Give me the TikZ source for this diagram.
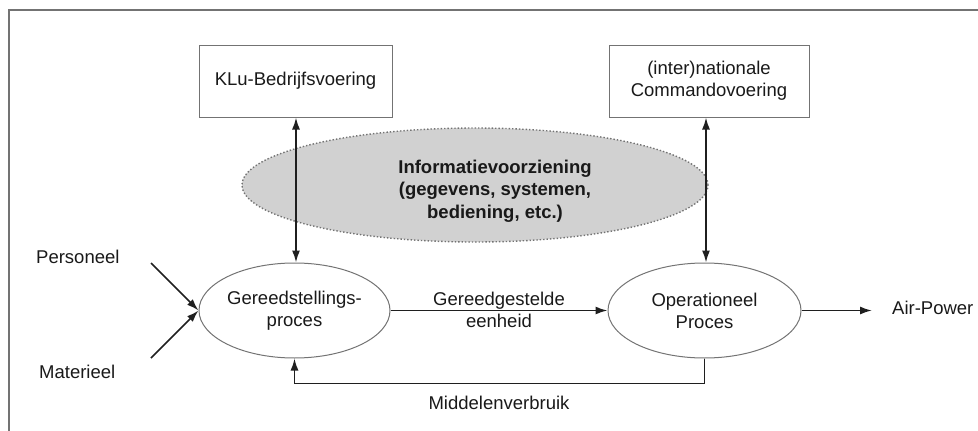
\documentclass[tikz,border=0pt]{standalone}
\usepackage{fontspec}
\setmainfont{Liberation Sans}
\usetikzlibrary{arrows.meta,shapes.geometric}
\begin{document}
\begin{tikzpicture}[x=1pt,y=-1pt,
  txt/.style={font=\fontsize{18.5}{22}\selectfont, align=center, inner sep=0pt, text=black!90},
  box/.style={txt, draw=black!55, line width=1pt, rectangle, minimum height=72pt},
  proc/.style={txt, draw=black!55, line width=1pt, ellipse, minimum height=95pt},
  flow/.style={draw=black!88, line width=1.7pt, -{Latex[length=12pt,width=8pt]}},
  twoway/.style={draw=black!88, line width=1.7pt, {Latex[length=12pt,width=8pt]}-{Latex[length=12pt,width=8pt]}},
  frameline/.style={draw=black!55, line width=1.8pt}
]
\useasboundingbox (0,0) rectangle (978,431);

% page frame (top and left edges)
\draw[frameline] (9,431) -- (9,10) -- (978,10);

% information cloud
\node[ellipse, draw=black!55, dotted, line width=1.4pt, fill=black!18,
      minimum width=466pt, minimum height=114pt, inner sep=0pt] (info) at (475,185) {};
\node[txt, font=\bfseries\fontsize{18.5}{22.5}\selectfont] (infotext) at (495,191)
  {Informatievoorziening\\(gegevens, systemen,\\bediening, etc.)};

% steering boxes
\node[box, minimum width=193pt] (klu) at (295.5,81) {KLu-Bedrijfsvoering};
\node[box, minimum width=200pt] (cmd) at (709,81) {(inter)nationale\\Commandovoering};

% processes
\node[proc, minimum width=191pt] (gereed) at (294.5,310.5) {Gereedstellings-\\proces};
\node[proc, minimum width=193pt] (oper) at (704.5,310.5) {Operationeel\\Proces};

% inputs and output
\node[txt, anchor=west] (pers) at (36,257) {Personeel};
\node[txt, anchor=west] (mat) at (39,372) {Materieel};
\node[txt, anchor=west] (air) at (892,308) {Air-Power};
\coordinate (persstart) at (151,263);
\coordinate (matstart) at (151,358);
\coordinate (airend) at (872,310.5);

% flow labels
\node[txt] (unit) at (499,310) {Gereedgestelde\\[0pt]eenheid};
\node[txt] (use) at (499,403) {Middelenverbruik};

% connectors
\draw[twoway] (klu.south -| 296,0) -- (gereed.north -| 296,0);
\draw[twoway] (cmd.south -| 706,0) -- (oper.north -| 706,0);
\draw[flow] (persstart) -- (gereed.west);
\draw[flow] (matstart) -- (gereed.west);
\draw[flow] (gereed.east) -- (oper.west);
\draw[flow] (oper.east) -- (airend);
\draw[flow] (oper.south) -- ++(0,25) -| (gereed.south);
\end{tikzpicture}
\end{document}
